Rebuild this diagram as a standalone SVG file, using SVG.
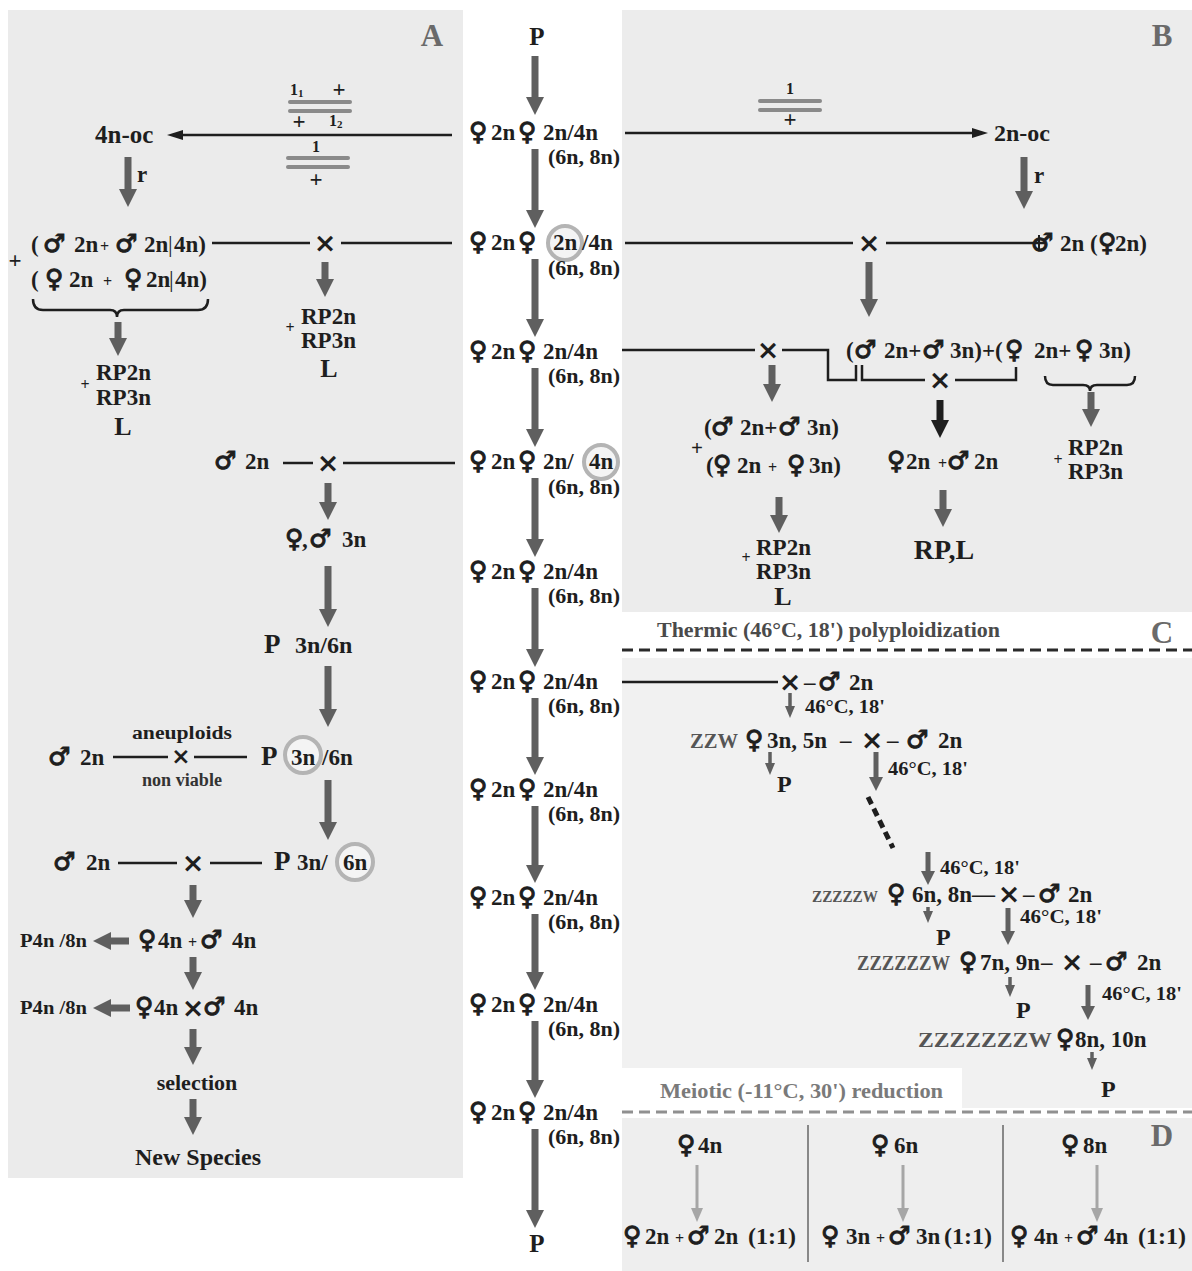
<svg xmlns="http://www.w3.org/2000/svg" width="1192" height="1271" viewBox="0 0 1192 1271">
<defs>
<style>
.t{font-family:"Liberation Serif",serif;font-weight:bold;font-size:23px;fill:#1e1e1e}
.s{font-family:"DejaVu Sans",sans-serif;font-weight:bold;font-size:25px;stroke:#1e1e1e;stroke-width:1.1}
.x{font-family:"DejaVu Sans",sans-serif;font-weight:bold;font-size:27px;fill:#1e1e1e;text-anchor:middle}
.m{text-anchor:middle}
.sm{font-size:16px}
.xs{font-size:11px}
.tc{font-size:19px}
.lbl{font-family:"Liberation Serif",serif;font-weight:bold;font-size:31px;fill:#6a6a6a;text-anchor:middle}
.ga{stroke:#5f5f5f;stroke-width:7;fill:none;marker-end:url(#hg)}
.gm{stroke:#5f5f5f;stroke-width:5;fill:none;marker-end:url(#hm)}
.gs{stroke:#5f5f5f;stroke-width:3.5;fill:none;marker-end:url(#hs)}
.gt{stroke:#a6a6a6;stroke-width:3;fill:none;marker-end:url(#ht)}
.gb{stroke:#1e1e1e;stroke-width:7;fill:none;marker-end:url(#hb)}
.ln{stroke:#1e1e1e;stroke-width:2.5;fill:none}
.la{stroke:#1e1e1e;stroke-width:2.5;fill:none;marker-end:url(#hk)}
.bar{stroke:#8a8a8a;stroke-width:4;stroke-linecap:round}
.hl{fill:#f4f4f4;stroke:#b4b4b4;stroke-width:4}
.z{fill:#555}
</style>
<marker id="hg" markerUnits="userSpaceOnUse" markerWidth="18" markerHeight="18" viewBox="0 0 18 18" refX="4" refY="9" orient="auto"><path d="M0,0L18,9L0,18z" fill="#5f5f5f"/></marker>
<marker id="hm" markerUnits="userSpaceOnUse" markerWidth="14" markerHeight="14" viewBox="0 0 14 14" refX="3" refY="7" orient="auto"><path d="M0,0L14,7L0,14z" fill="#5f5f5f"/></marker>
<marker id="hs" markerUnits="userSpaceOnUse" markerWidth="12" markerHeight="10" viewBox="0 0 12 10" refX="3" refY="5" orient="auto"><path d="M0,0L12,5L0,10z" fill="#5f5f5f"/></marker>
<marker id="ht" markerUnits="userSpaceOnUse" markerWidth="14" markerHeight="12" viewBox="0 0 14 12" refX="2" refY="6" orient="auto"><path d="M0,0L14,6L0,12z" fill="#a6a6a6"/></marker>
<marker id="hb" markerUnits="userSpaceOnUse" markerWidth="18" markerHeight="18" viewBox="0 0 18 18" refX="4" refY="9" orient="auto"><path d="M0,0L18,9L0,18z" fill="#1e1e1e"/></marker>
<marker id="hk" markerUnits="userSpaceOnUse" markerWidth="16" markerHeight="10" viewBox="0 0 16 10" refX="3" refY="5" orient="auto"><path d="M0,0L16,5L0,10z" fill="#1e1e1e"/></marker>
</defs>

<rect x="0" y="0" width="1192" height="1271" fill="#ffffff"/>
<g id="backgrounds">
<rect x="8" y="10" width="455" height="1168" fill="#ebebeb"/>
<rect x="622" y="10" width="570" height="602" fill="#ececec"/>
<rect x="622" y="658" width="570" height="450" fill="#f1f1f1"/>
<rect x="622" y="1068" width="340" height="40" fill="#ffffff"/>
<rect x="622" y="1118" width="570" height="153" fill="#eeeeee"/>
</g>

<g id="connectors">
<!-- center column -->
<line class="ga" x1="535" y1="56" x2="535" y2="101"/>
<line class="ga" x1="535" y1="149" x2="535" y2="214"/>
<line class="ga" x1="535" y1="259" x2="535" y2="323"/>
<line class="ga" x1="535" y1="368" x2="535" y2="433"/>
<line class="ga" x1="535" y1="478" x2="535" y2="543"/>
<line class="ga" x1="535" y1="588" x2="535" y2="653"/>
<line class="ga" x1="535" y1="698" x2="535" y2="761"/>
<line class="ga" x1="535" y1="806" x2="535" y2="869"/>
<line class="ga" x1="535" y1="914" x2="535" y2="976"/>
<line class="ga" x1="535" y1="1021" x2="535" y2="1084"/>
<line class="ga" x1="535" y1="1129" x2="535" y2="1214"/>
<!-- panel A -->
<line class="la" x1="452" y1="135" x2="180" y2="135"/>
<line class="bar" x1="290" y1="102" x2="350" y2="102"/>
<line class="bar" x1="290" y1="111" x2="350" y2="111"/>
<line class="bar" x1="288" y1="158" x2="348" y2="158"/>
<line class="bar" x1="288" y1="167" x2="348" y2="167"/>
<line class="ga" x1="128" y1="157" x2="128" y2="193"/>
<path class="ln" d="M33,299 Q33,310 43,310 L110,310 Q117,310 117,317 Q117,310 124,310 L198,310 Q208,310 208,299" stroke-width="2"/>
<line class="ga" x1="118" y1="322" x2="118" y2="342"/>
<line class="ln" x1="212" y1="243" x2="310" y2="243"/>
<line class="ln" x1="341" y1="243" x2="452" y2="243"/>
<line class="ga" x1="325" y1="262" x2="325" y2="283"/>
<line class="ln" x1="283" y1="463" x2="313" y2="463"/>
<line class="ln" x1="343" y1="463" x2="455" y2="463"/>
<line class="ga" x1="328" y1="483" x2="328" y2="506"/>
<line class="ga" x1="328" y1="566" x2="328" y2="613"/>
<line class="ga" x1="328" y1="666" x2="328" y2="713"/>
<line class="ln" x1="113" y1="757" x2="168" y2="757"/>
<line class="ln" x1="194" y1="757" x2="247" y2="757"/>
<line class="ga" x1="328" y1="780" x2="328" y2="826"/>
<line class="ln" x1="118" y1="863" x2="177" y2="863"/>
<line class="ln" x1="210" y1="863" x2="262" y2="863"/>
<line class="ga" x1="193" y1="885" x2="193" y2="904"/>
<line class="ga" x1="129" y1="941" x2="107" y2="941"/>
<line class="ga" x1="130" y1="1008" x2="107" y2="1008"/>
<line class="ga" x1="193" y1="957" x2="193" y2="976"/>
<line class="ga" x1="193" y1="1029" x2="193" y2="1051"/>
<line class="ga" x1="193" y1="1099" x2="193" y2="1121"/>
<!-- panel B -->
<line class="la" x1="625" y1="133" x2="975" y2="133"/>
<line class="bar" x1="760" y1="101" x2="820" y2="101"/>
<line class="bar" x1="760" y1="110" x2="820" y2="110"/>
<line class="ga" x1="1024" y1="157" x2="1024" y2="195"/>
<line class="ln" x1="625" y1="243" x2="853" y2="243"/>
<line class="ln" x1="886" y1="243" x2="1046" y2="243"/>
<line class="ga" x1="869" y1="262" x2="869" y2="303"/>
<line class="ln" x1="622" y1="350" x2="755" y2="350"/>
<polyline class="ln" points="782,350 828,350 828,380 856,380 856,365"/>
<polyline class="ln" points="862,365 862,380 925,380"/>
<polyline class="ln" points="955,380 1016,380 1016,367"/>
<path class="ln" d="M1045,376 Q1045,385 1053,385 L1083,385 Q1090,385 1090,391 Q1090,385 1097,385 L1127,385 Q1135,385 1135,376" stroke-width="2"/>
<line class="ga" x1="1091" y1="392" x2="1091" y2="413"/>
<line class="ga" x1="772" y1="365" x2="772" y2="388"/>
<line class="ga" x1="779" y1="497" x2="779" y2="519"/>
<line class="gb" x1="940" y1="400" x2="940" y2="424"/>
<line class="ga" x1="943" y1="490" x2="943" y2="513"/>
<!-- panel C -->
<line x1="622" y1="650" x2="1192" y2="650" stroke="#2a2a2a" stroke-width="3" stroke-dasharray="11 6"/>
<line class="ln" x1="622" y1="682" x2="778" y2="682"/>
<line class="gs" x1="790" y1="693" x2="790" y2="709"/>
<line class="gs" x1="770" y1="752" x2="770" y2="766"/>
<line class="gm" x1="876" y1="752" x2="876" y2="780"/>
<line x1="868" y1="797" x2="893" y2="848" stroke="#1e1e1e" stroke-width="5" stroke-dasharray="8 5"/>
<line class="gm" x1="928" y1="852" x2="928" y2="874"/>
<line class="gs" x1="928" y1="907" x2="928" y2="914"/>
<line class="gm" x1="1008" y1="908" x2="1008" y2="934"/>
<line class="gs" x1="1010" y1="977" x2="1010" y2="988"/>
<line class="gm" x1="1088" y1="985" x2="1088" y2="1009"/>
<line class="gs" x1="1092" y1="1052" x2="1092" y2="1061"/>
<line x1="622" y1="1112" x2="1192" y2="1112" stroke="#909090" stroke-width="3" stroke-dasharray="11 6"/>
<!-- panel D -->
<line x1="808" y1="1125" x2="808" y2="1262" stroke="#888" stroke-width="2"/>
<line x1="1003" y1="1125" x2="1003" y2="1262" stroke="#888" stroke-width="2"/>
<line class="gt" x1="697" y1="1165" x2="697" y2="1210"/>
<line class="gt" x1="903" y1="1165" x2="903" y2="1210"/>
<line class="gt" x1="1097" y1="1165" x2="1097" y2="1210"/>
</g>

<!-- ===== center column nodes ===== -->
<g id="c-top-P"><text class="t m" x="537" y="45" style="font-size:25px">P</text></g>
<g id="c-row1"><text class="t" y="140"><tspan class="s" x="469">♀</tspan><tspan x="491">2n</tspan><tspan class="s" x="518">♀</tspan><tspan x="543">2n/4n</tspan></text><text class="t" x="548" y="164" style="font-size:22px">(6n, 8n)</text></g>
<g id="c-row2"><circle class="hl" cx="565" cy="243" r="17"/><text class="t" y="250"><tspan class="s" x="469">♀</tspan><tspan x="491">2n</tspan><tspan class="s" x="518">♀</tspan><tspan x="553">2n</tspan><tspan x="582">/4n</tspan></text><text class="t" x="548" y="275" style="font-size:22px">(6n, 8n)</text></g>
<g id="c-row3"><text class="t" y="359"><tspan class="s" x="469">♀</tspan><tspan x="491">2n</tspan><tspan class="s" x="518">♀</tspan><tspan x="543">2n/4n</tspan></text><text class="t" x="548" y="383" style="font-size:22px">(6n, 8n)</text></g>
<g id="c-row4"><circle class="hl" cx="601" cy="462" r="17"/><text class="t" y="469"><tspan class="s" x="469">♀</tspan><tspan x="491">2n</tspan><tspan class="s" x="518">♀</tspan><tspan x="543">2n/</tspan><tspan x="589">4n</tspan></text><text class="t" x="548" y="494" style="font-size:22px">(6n, 8n)</text></g>
<g id="c-row5"><text class="t" y="579"><tspan class="s" x="469">♀</tspan><tspan x="491">2n</tspan><tspan class="s" x="518">♀</tspan><tspan x="543">2n/4n</tspan></text><text class="t" x="548" y="603" style="font-size:22px">(6n, 8n)</text></g>
<g id="c-row6"><text class="t" y="689"><tspan class="s" x="469">♀</tspan><tspan x="491">2n</tspan><tspan class="s" x="518">♀</tspan><tspan x="543">2n/4n</tspan></text><text class="t" x="548" y="713" style="font-size:22px">(6n, 8n)</text></g>
<g id="c-row7"><text class="t" y="797"><tspan class="s" x="469">♀</tspan><tspan x="491">2n</tspan><tspan class="s" x="518">♀</tspan><tspan x="543">2n/4n</tspan></text><text class="t" x="548" y="821" style="font-size:22px">(6n, 8n)</text></g>
<g id="c-row8"><text class="t" y="905"><tspan class="s" x="469">♀</tspan><tspan x="491">2n</tspan><tspan class="s" x="518">♀</tspan><tspan x="543">2n/4n</tspan></text><text class="t" x="548" y="929" style="font-size:22px">(6n, 8n)</text></g>
<g id="c-row9"><text class="t" y="1012"><tspan class="s" x="469">♀</tspan><tspan x="491">2n</tspan><tspan class="s" x="518">♀</tspan><tspan x="543">2n/4n</tspan></text><text class="t" x="548" y="1036" style="font-size:22px">(6n, 8n)</text></g>
<g id="c-row10"><text class="t" y="1120"><tspan class="s" x="469">♀</tspan><tspan x="491">2n</tspan><tspan class="s" x="518">♀</tspan><tspan x="543">2n/4n</tspan></text><text class="t" x="548" y="1144" style="font-size:22px">(6n, 8n)</text></g>
<g id="c-bottom-P"><text class="t m" x="537" y="1252" style="font-size:25px">P</text></g>

<!-- ===== panel A nodes ===== -->
<g id="A-label"><text class="lbl" x="432" y="46">A</text></g>
<g id="A-inhib"><text class="t sm" x="290" y="95">1<tspan class="xs" dy="2">1</tspan></text><text class="t m" x="339" y="97">+</text><text class="t m" x="299" y="129">+</text><text class="t sm" x="329" y="126">1<tspan class="xs" dy="2">2</tspan></text><text class="t sm m" x="316" y="152">1</text><text class="t m" x="316" y="187">+</text></g>
<g id="A-4noc"><text class="t" x="95" y="143" style="font-size:25px">4n-oc</text><text class="t" x="137" y="182">r</text></g>
<g id="A-pairs"><text class="t" y="252"><tspan x="31">(</tspan><tspan class="s" x="43">♂</tspan><tspan x="74">2n</tspan><tspan x="100" font-size="16">+</tspan><tspan class="s" x="115">♂</tspan><tspan x="144">2n</tspan><tspan x="168" font-weight="normal">|</tspan><tspan x="174">4n)</tspan></text><text class="t m" x="15" y="268">+</text><text class="t" y="287"><tspan x="31">(</tspan><tspan class="s" x="45">♀</tspan><tspan x="69">2n</tspan><tspan x="103" font-size="16">+</tspan><tspan class="s" x="124">♀</tspan><tspan x="146">2n</tspan><tspan x="169" font-weight="normal">|</tspan><tspan x="175">4n)</tspan></text></g>
<g id="A-rp1"><text class="t sm m" x="85" y="390">+</text><text class="t" x="96" y="380">RP2n</text><text class="t" x="96" y="405">RP3n</text><text class="t m" x="123" y="435" style="font-size:26px">L</text></g>
<g id="A-cross1"><text class="x" x="325" y="252">×</text></g>
<g id="A-rp2"><text class="t sm m" x="290" y="333">+</text><text class="t" x="301" y="324">RP2n</text><text class="t" x="301" y="348">RP3n</text><text class="t m" x="329" y="377" style="font-size:26px">L</text></g>
<g id="A-m2n-1"><text class="t" y="469"><tspan class="s" x="214">♂</tspan><tspan x="245">2n</tspan></text><text class="x" x="328" y="472">×</text></g>
<g id="A-f3n"><text class="t" y="547"><tspan class="s" x="285">♀</tspan><tspan x="302">,</tspan><tspan class="s" x="309">♂</tspan><tspan x="342">3n</tspan></text></g>
<g id="A-P3n6n-1"><text class="t" y="653"><tspan x="264" font-size="27">P</tspan><tspan x="295" font-size="24">3n/6n</tspan></text></g>
<g id="A-aneu"><text class="t m" x="182" y="739" style="font-size:18px" textLength="100" lengthAdjust="spacingAndGlyphs">aneuploids</text><text class="t" y="765"><tspan class="s" x="48">♂</tspan><tspan x="80">2n</tspan></text><text class="x" x="181" y="764" style="font-size:23px">×</text><text class="t m" x="182" y="786" style="font-size:18px;fill:#333" textLength="80" lengthAdjust="spacingAndGlyphs">non viable</text></g>
<g id="A-P3n6n-2"><circle class="hl" cx="303" cy="755" r="18"/><text class="t" y="765"><tspan x="261" font-size="27">P</tspan><tspan x="291">3n</tspan><tspan x="322">/6n</tspan></text></g>
<g id="A-m2n-3"><text class="t" y="870"><tspan class="s" x="53">♂</tspan><tspan x="86">2n</tspan></text><text class="x" x="193" y="872">×</text></g>
<g id="A-P3n6n-3"><circle class="hl" cx="355" cy="862" r="18"/><text class="t" y="870"><tspan x="274" font-size="27">P</tspan><tspan x="297">3n/</tspan><tspan x="343">6n</tspan></text></g>
<g id="A-4n-1"><text class="t" x="20" y="947" style="font-size:19px" textLength="67" lengthAdjust="spacingAndGlyphs">P4n /8n</text><text class="t" y="948"><tspan class="s" x="138">♀</tspan><tspan x="158">4n</tspan><tspan x="188" font-size="16">+</tspan><tspan class="s" x="200">♂</tspan><tspan x="232">4n</tspan></text></g>
<g id="A-4n-2"><text class="t" x="20" y="1014" style="font-size:19px" textLength="67" lengthAdjust="spacingAndGlyphs">P4n /8n</text><text class="t" y="1015"><tspan class="s" x="135">♀</tspan><tspan x="154">4n</tspan></text><text class="x" x="193" y="1017">×</text><text class="t" y="1015"><tspan class="s" x="203">♂</tspan><tspan x="234">4n</tspan></text></g>
<g id="A-selection"><text class="t m" x="197" y="1090" style="font-size:22px">selection</text></g>
<g id="A-newspecies"><text class="t m" x="198" y="1165" style="font-size:24px">New Species</text></g>

<!-- ===== panel B nodes ===== -->
<g id="B-label"><text class="lbl" x="1162" y="46">B</text></g>
<g id="B-inhib"><text class="t sm m" x="790" y="94">1</text><text class="t m" x="790" y="127">+</text></g>
<g id="B-2noc"><text class="t" x="994" y="141" style="font-size:24px">2n-oc</text><text class="t" x="1034" y="183">r</text></g>
<g id="B-cross1"><text class="x" x="869" y="252">×</text></g>
<g id="B-male2n"><text class="t" y="251"><tspan class="s" x="1031">♂</tspan><tspan x="1060">2n</tspan><tspan x="1090">(</tspan><tspan class="s" x="1098">♀</tspan><tspan x="1115">2n)</tspan></text><line x1="1039" y1="235" x2="1039" y2="251" stroke="#1e1e1e" stroke-width="2"/></g>
<g id="B-cross2"><text class="x" x="768" y="359">×</text></g>
<g id="B-mix"><text class="t" y="358"><tspan x="846">(</tspan><tspan class="s" x="854">♂</tspan><tspan x="884">2n+</tspan><tspan class="s" x="922">♂</tspan><tspan x="950">3n)+(</tspan><tspan class="s" x="1005">♀</tspan><tspan x="1034">2n+</tspan><tspan class="s" x="1075">♀</tspan><tspan x="1099">3n)</tspan></text></g>
<g id="B-cross3"><text class="x" x="940" y="389">×</text></g>
<g id="B-rp3"><text class="t sm m" x="1058" y="465">+</text><text class="t" x="1068" y="455">RP2n</text><text class="t" x="1068" y="479">RP3n</text></g>
<g id="B-pair"><text class="t" y="435"><tspan x="704">(</tspan><tspan class="s" x="711">♂</tspan><tspan x="740">2n+</tspan><tspan class="s" x="778">♂</tspan><tspan x="807">3n)</tspan></text><text class="t m" x="697" y="455" style="font-size:21px">+</text><text class="t" y="473"><tspan x="706">(</tspan><tspan class="s" x="713">♀</tspan><tspan x="737">2n</tspan><tspan x="768" font-size="16">+</tspan><tspan class="s" x="787">♀</tspan><tspan x="809">3n)</tspan></text></g>
<g id="B-rp1"><text class="t sm m" x="746" y="563">+</text><text class="t" x="756" y="555">RP2n</text><text class="t" x="756" y="579">RP3n</text><text class="t m" x="783" y="605" style="font-size:26px">L</text></g>
<g id="B-f2m2"><text class="t" y="469"><tspan class="s" x="887">♀</tspan><tspan x="906">2n</tspan><tspan x="938" font-size="16">+</tspan><tspan class="s" x="947">♂</tspan><tspan x="974">2n</tspan></text></g>
<g id="B-rpl"><text class="t m" x="944" y="559" style="font-size:28px">RP,L</text></g>

<!-- ===== panel C nodes ===== -->
<g id="C-title"><text class="t" x="657" y="637" style="font-size:20px;fill:#4a4a4a" textLength="343" lengthAdjust="spacingAndGlyphs">Thermic (46°C, 18') polyploidization</text><text class="lbl" x="1162" y="643">C</text></g>
<g id="C-r1"><text class="x" x="790" y="691">×</text><text class="t" y="690"><tspan x="804">–</tspan><tspan class="s" x="818">♂</tspan><tspan x="849">2n</tspan></text><text class="t tc" x="805" y="713" textLength="80" lengthAdjust="spacingAndGlyphs">46°C, 18'</text></g>
<g id="C-r2"><text class="t" y="748"><tspan class="z" x="690" font-size="20" textLength="48" lengthAdjust="spacingAndGlyphs">ZZW</tspan><tspan class="s" x="745">♀</tspan><tspan x="767">3n, 5n</tspan><tspan x="840">–</tspan></text><text class="x" x="872" y="749">×</text><text class="t" y="748"><tspan x="887">–</tspan><tspan class="s" x="906">♂</tspan><tspan x="938">2n</tspan></text><text class="t" x="777" y="792" style="font-size:24px">P</text><text class="t tc" x="888" y="775" textLength="80" lengthAdjust="spacingAndGlyphs">46°C, 18'</text></g>
<g id="C-r3lbl"><text class="t tc" x="940" y="874" textLength="80" lengthAdjust="spacingAndGlyphs">46°C, 18'</text></g>
<g id="C-r3"><text class="t z" x="812" y="902" style="font-size:16px" textLength="66" lengthAdjust="spacingAndGlyphs">ZZZZZW</text><text class="t" y="902"><tspan class="s" x="887">♀</tspan><tspan x="912">6n, 8n—</tspan></text><text class="x" x="1009" y="903">×</text><text class="t" y="902"><tspan x="1023">–</tspan><tspan class="s" x="1038">♂</tspan><tspan x="1068">2n</tspan></text><text class="t" x="936" y="945" style="font-size:24px">P</text><text class="t tc" x="1020" y="923" textLength="82" lengthAdjust="spacingAndGlyphs">46°C, 18'</text></g>
<g id="C-r4"><text class="t" y="970"><tspan class="z" x="857" font-size="20" textLength="93" lengthAdjust="spacingAndGlyphs">ZZZZZZW</tspan><tspan class="s" x="959">♀</tspan><tspan x="980">7n, 9n</tspan><tspan x="1041">–</tspan></text><text class="x" x="1072" y="971">×</text><text class="t" y="970"><tspan x="1090">–</tspan><tspan class="s" x="1105">♂</tspan><tspan x="1137">2n</tspan></text><text class="t" x="1016" y="1018" style="font-size:24px">P</text><text class="t tc" x="1102" y="1000" textLength="80" lengthAdjust="spacingAndGlyphs">46°C, 18'</text></g>
<g id="C-r5"><text class="t" y="1047"><tspan class="z" x="918" font-size="20" textLength="134" lengthAdjust="spacingAndGlyphs">ZZZZZZZW</tspan><tspan class="s" x="1056">♀</tspan><tspan x="1075">8n, 10n</tspan></text><text class="t" x="1101" y="1097" style="font-size:24px">P</text></g>
<g id="C-meiotic"><text class="t" x="660" y="1098" style="font-size:20px;fill:#7a7a7a" textLength="283" lengthAdjust="spacingAndGlyphs">Meiotic (-11°C, 30') reduction</text></g>

<!-- ===== panel D nodes ===== -->
<g id="D-label"><text class="lbl" x="1162" y="1146">D</text></g>
<g id="D-4n"><text class="t" y="1153"><tspan class="s" x="677">♀</tspan><tspan x="698">4n</tspan></text><text class="t" y="1244"><tspan class="s" x="623">♀</tspan><tspan x="645">2n</tspan><tspan x="675" font-size="16">+</tspan><tspan class="s" x="687">♂</tspan><tspan x="714">2n</tspan><tspan x="748" font-size="24">(1:1)</tspan></text></g>
<g id="D-6n"><text class="t" y="1153"><tspan class="s" x="871">♀</tspan><tspan x="894">6n</tspan></text><text class="t" y="1244"><tspan class="s" x="821">♀</tspan><tspan x="846">3n</tspan><tspan x="876" font-size="16">+</tspan><tspan class="s" x="888">♂</tspan><tspan x="916">3n</tspan><tspan x="944" font-size="24">(1:1)</tspan></text></g>
<g id="D-8n"><text class="t" y="1153"><tspan class="s" x="1061">♀</tspan><tspan x="1083">8n</tspan></text><text class="t" y="1244"><tspan class="s" x="1010">♀</tspan><tspan x="1034">4n</tspan><tspan x="1064" font-size="16">+</tspan><tspan class="s" x="1076">♂</tspan><tspan x="1104">4n</tspan><tspan x="1138" font-size="24">(1:1)</tspan></text></g>
</svg>
